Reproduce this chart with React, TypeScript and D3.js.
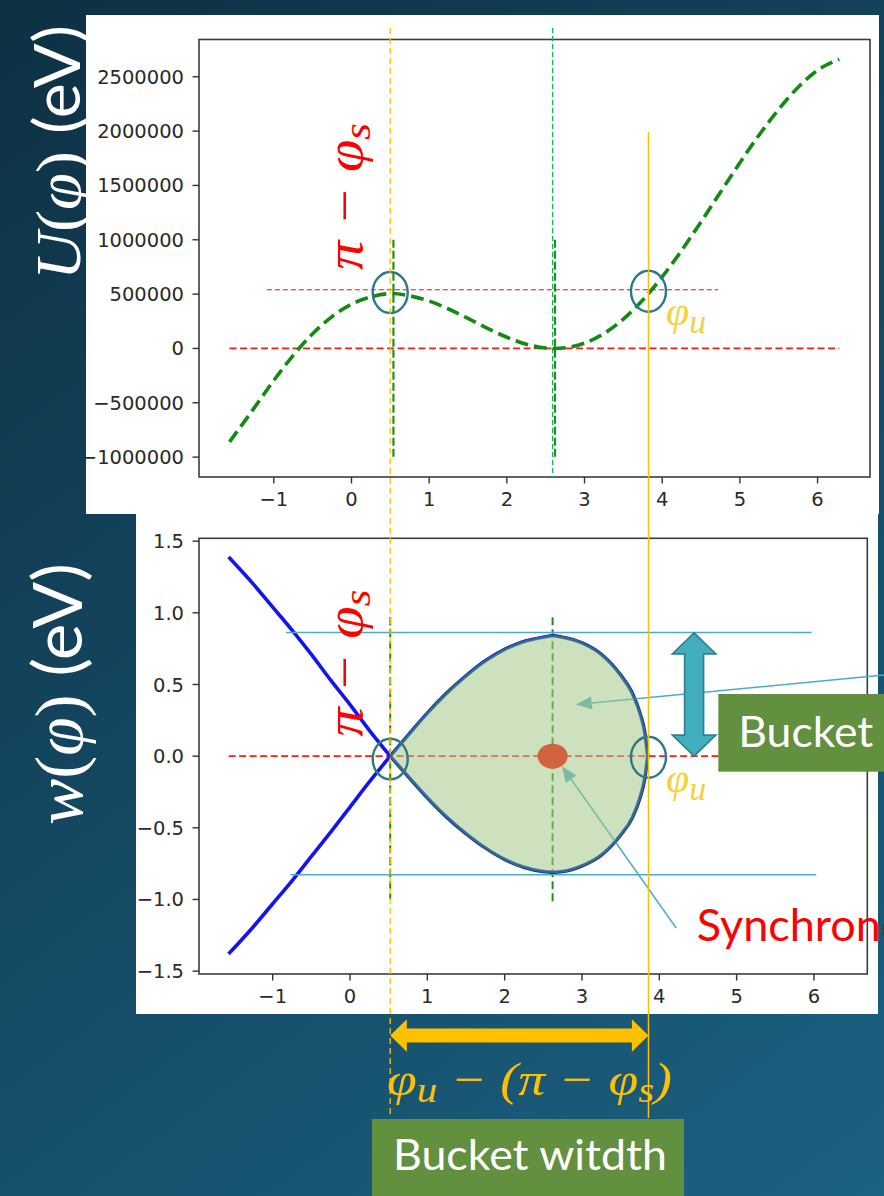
import React from 'react';
import * as d3 from 'd3';

const W = 884;
const H = 1196;

// Potential energy U(φ) in eV
const uPhi = [-1.57, -1.25, -1.0, -0.75, -0.5, -0.25, 0, 0.25, 0.52, 0.75, 1.0, 1.25, 1.5, 1.75, 2.0, 2.25, 2.5, 2.62, 2.75, 3.0, 3.25, 3.5, 3.75, 4.0, 4.25, 4.5, 4.75, 5.0, 5.25, 5.5, 5.75, 6.0, 6.28];
const uValues = [-860000, -545000, -294000, -63000, 135000, 293000, 407000, 475000, 505000, 484000, 436000, 363000, 276000, 185000, 103000, 39000, 4000, 0, 6000, 49000, 137000, 270000, 446000, 659000, 902000, 1165000, 1438000, 1709000, 1967000, 2201000, 2404000, 2560000, 2660000];

// Separatrix w(φ): open branches left of π − φs
const sepLeftPhi = [-1.57, -1.25, -1.0, -0.75, -0.5, -0.25, 0, 0.25, 0.52];
const sepLeftUpper = [1.39, 1.2, 1.04, 0.88, 0.71, 0.53, 0.36, 0.18, 0];
const sepLeftLower = [-1.38, -1.19, -1.03, -0.87, -0.7, -0.53, -0.355, -0.18, 0];

// Separatrix w(φ): closed bucket between π − φs and φu
const bucketPhi = [0.52, 0.75, 1.0, 1.25, 1.5, 1.75, 2.0, 2.25, 2.5, 2.62, 2.75, 3.0, 3.25, 3.5, 3.65, 3.75, 3.81, 3.85];
const bucketUpper = [0, 0.145, 0.3, 0.44, 0.56, 0.665, 0.745, 0.8, 0.83, 0.84, 0.83, 0.79, 0.71, 0.565, 0.44, 0.3, 0.17, 0];
const bucketLower = [0, -0.14, -0.29, -0.425, -0.54, -0.64, -0.72, -0.775, -0.805, -0.81, -0.805, -0.765, -0.69, -0.55, -0.43, -0.29, -0.16, 0];

// Axis ticks
const uTicks = [-1000000, -500000, 0, 500000, 1000000, 1500000, 2000000, 2500000];
const uTickLabels = ['−1000000', '−500000', '0', '500000', '1000000', '1500000', '2000000', '2500000'];
const phiTicks = [-1, 0, 1, 2, 3, 4, 5, 6];
const phiTickLabels = ['−1', '0', '1', '2', '3', '4', '5', '6'];
const wTicks = [-1.5, -1.0, -0.5, 0, 0.5, 1.0, 1.5];
const wTickLabels = ['−1.5', '−1.0', '−0.5', '0.0', '0.5', '1.0', '1.5'];

// Characteristic phases
const PHI_CROSS = 0.52; // π − φs
const PHI_CROSS_MARK = 0.54;
const PHI_S = 2.62;
const PHI_U = 3.86;

const MATH = "'Liberation Serif', 'DejaVu Serif', serif";
const SANS = "Lato, 'Open Sans', sans-serif";
const TICK = "'DejaVu Sans', sans-serif";

const xT = d3.scaleLinear().domain([-1.963, 6.675]).range([199, 870]);
const yT = d3.scaleLinear().domain([-1183000, 2843000]).range([477, 39.5]);
const xB = d3.scaleLinear().domain([-1.953, 6.69]).range([199, 867.3]);
const yB = d3.scaleLinear().domain([-1.52, 1.52]).range([974, 538.3]);

type P = [number, number];
const zip = (a: number[], b: number[]): P[] => a.map((v, i) => [v, b[i]] as P);

const lineT = d3.line<P>().x(d => xT(d[0])).y(d => yT(d[1])).curve(d3.curveMonotoneX);
const lineB = d3.line<P>().x(d => xB(d[0])).y(d => yB(d[1])).curve(d3.curveMonotoneX);
const bucketArea = d3
  .area<number>()
  .x((_, i) => xB(bucketPhi[i]))
  .y0((_, i) => yB(bucketLower[i]))
  .y1((_, i) => yB(bucketUpper[i]))
  .curve(d3.curveMonotoneX);

function Frame({ x, y, xt, xl, yt, yl, labelY, clip }: any) {
  const [x0, x1] = x.range();
  const [y0, y1] = y.range();
  return (
    <g>
      <rect x={x0} y={y1} width={x1 - x0} height={y0 - y1} fill="none" stroke="#3c3c3c" strokeWidth={1.6} />
      {xt.map((t: number, i: number) => (
        <g key={'x' + i}>
          <line x1={x(t)} x2={x(t)} y1={y0} y2={y0 + 6.5} stroke="#333" strokeWidth={1.4} />
          <text x={x(t)} y={labelY} textAnchor="middle" fontFamily={TICK} fontSize={19.5} fill="#2a2a2a">{xl[i]}</text>
        </g>
      ))}
      <g clipPath={clip}>
        {yt.map((t: number, i: number) => (
          <g key={'y' + i}>
            <line x1={x0 - 6.5} x2={x0} y1={y(t)} y2={y(t)} stroke="#333" strokeWidth={1.4} />
            <text x={x0 - 15} y={y(t)} dy="0.36em" textAnchor="end" fontFamily={TICK} fontSize={19.5} fill="#2a2a2a">{yl[i]}</text>
          </g>
        ))}
      </g>
    </g>
  );
}

function pointer(x0: number, y0: number, x1: number, y1: number, color: string) {
  const a = Math.atan2(y1 - y0, x1 - x0);
  const L = 16;
  const hw = 6.5;
  const bx = x1 - L * Math.cos(a);
  const by = y1 - L * Math.sin(a);
  const nx = -Math.sin(a);
  const ny = Math.cos(a);
  return (
    <g>
      <line x1={x0} y1={y0} x2={bx} y2={by} stroke={color} strokeWidth={1.6} />
      <path d={`M${x1},${y1}L${bx + nx * hw},${by + ny * hw}L${bx - nx * hw},${by - ny * hw}Z`} fill={color} />
    </g>
  );
}

function vDoubleArrow(cx: number, yTop: number, yBot: number) {
  const hh = 21;
  const hw = 21.8;
  const sw = 9.5;
  const d = `M${cx},${yTop}L${cx + hw},${yTop + hh}L${cx + sw},${yTop + hh}L${cx + sw},${yBot - hh}L${cx + hw},${yBot - hh}L${cx},${yBot}L${cx - hw},${yBot - hh}L${cx - sw},${yBot - hh}L${cx - sw},${yTop + hh}L${cx - hw},${yTop + hh}Z`;
  return <path d={d} fill="#42adbd" stroke="#2f7f8e" strokeWidth={1.6} strokeLinejoin="miter" />;
}

function hDoubleArrow(xL: number, xR: number, cy: number) {
  const hl = 16.6;
  const hh = 16.2;
  const sh = 7;
  const d = `M${xL},${cy}L${xL + hl},${cy - hh}L${xL + hl},${cy - sh}L${xR - hl},${cy - sh}L${xR - hl},${cy - hh}L${xR},${cy}L${xR - hl},${cy + hh}L${xR - hl},${cy + sh}L${xL + hl},${cy + sh}L${xL + hl},${cy + hh}Z`;
  return <path d={d} fill="#ffc000" />;
}

export default function App() {
  const xCross = xB(PHI_CROSS);
  const xU = xB(PHI_U);
  return (
    <svg width={W} height={H} viewBox={`0 0 ${W} ${H}`} style={{ position: 'absolute', left: 0, top: 0, display: 'block' }}>
      <defs>
        <linearGradient id="bg" x1="0" y1="0" x2={W} y2={H} gradientUnits="userSpaceOnUse">
          <stop offset="0" stopColor="#0e3043" />
          <stop offset="1" stopColor="#1b6182" />
        </linearGradient>
        <clipPath id="clipTop"><rect x={86} y={15} width={793} height={499} /></clipPath>
        <clipPath id="clipBot"><rect x={136} y={514} width={742} height={500} /></clipPath>
      </defs>
      <rect x={0} y={0} width={W} height={H} fill="url(#bg)" />

      {/* panels */}
      <rect x={86} y={15} width={793} height={499} fill="#fff" />
      <rect x={136} y={514} width={742} height={500} fill="#fff" />

      {/* ---------- U(φ) plot ---------- */}
      <Frame x={xT} y={yT} xt={phiTicks} xl={phiTickLabels} yt={uTicks} yl={uTickLabels} labelY={506} clip="url(#clipTop)" />
      <line x1={xT(-1.57)} x2={xT(6.28)} y1={yT(0)} y2={yT(0)} stroke="#ff1a1a" strokeWidth={1.8} strokeDasharray="7 3.5" />
      <line x1={xT(PHI_CROSS_MARK)} x2={xT(PHI_CROSS_MARK)} y1={yT(1000000)} y2={yT(-1000000)} stroke="#1f8f1f" strokeWidth={2.2} strokeDasharray="8 3" />
      <line x1={xT(PHI_S)} x2={xT(PHI_S)} y1={yT(1000000)} y2={yT(-1000000)} stroke="#1f8f1f" strokeWidth={2.2} strokeDasharray="8 3" />
      <path d={lineT(zip(uPhi, uValues)) || ''} fill="none" stroke="#138a13" strokeWidth={3.6} strokeDasharray="13 6" />

      {/* annotations on U(φ) */}
      <line x1={xT(-1.09)} x2={xT(4.72)} y1={yT(540000)} y2={yT(540000)} stroke="#ff0000" strokeWidth={1} strokeDasharray="5 3" />
      <line x1={xT(2.59)} x2={xT(2.59)} y1={28} y2={478} stroke="#00b050" strokeWidth={1.2} strokeDasharray="5 3" />
      <ellipse cx={xCross} cy={yT(515000)} rx={17.5} ry={20.5} fill="none" stroke="#2d7888" strokeWidth={2.4} />
      <ellipse cx={xU} cy={yT(527000)} rx={17.5} ry={20.5} fill="none" stroke="#2d7888" strokeWidth={2.4} />
      <text transform="translate(362,270) rotate(-90)" fill="#ff0000" fontFamily={MATH} fontStyle="italic" fontSize={52} textLength={147} lengthAdjust="spacingAndGlyphs">
        π − φ<tspan fontSize={38} dy={8}>s</tspan>
      </text>
      <text x={666} y={325} fill="#f3d23b" fontFamily={MATH} fontStyle="italic" fontSize={42}>
        φ<tspan fontSize={34} dy={8}>u</tspan>
      </text>

      {/* ---------- w(φ) plot ---------- */}
      <Frame x={xB} y={yB} xt={phiTicks} xl={phiTickLabels} yt={wTicks} yl={wTickLabels} labelY={1003} clip="url(#clipBot)" />
      <line x1={xB(-1.57)} x2={xB(6.28)} y1={yB(0)} y2={yB(0)} stroke="#ff1a1a" strokeWidth={1.8} strokeDasharray="7 3.5" />
      <line x1={xB(PHI_CROSS)} x2={xB(PHI_CROSS)} y1={yB(0.97)} y2={yB(-1.0)} stroke="#1f8f1f" strokeWidth={2} strokeDasharray="8 4" />
      <line x1={xB(PHI_S)} x2={xB(PHI_S)} y1={yB(0.97)} y2={yB(-1.02)} stroke="#1f8f1f" strokeWidth={2} strokeDasharray="8 4" />
      <g fill="none" stroke="#1414f0" strokeWidth={3.6}>
        <path d={lineB(zip(sepLeftPhi, sepLeftUpper)) || ''} />
        <path d={lineB(zip(sepLeftPhi, sepLeftLower)) || ''} />
        <path d={lineB(zip(bucketPhi, bucketUpper)) || ''} />
        <path d={lineB(zip(bucketPhi, bucketLower)) || ''} />
      </g>

      {/* annotations on w(φ) */}
      <line x1={xB(-0.83)} x2={xB(5.97)} y1={yB(0.862)} y2={yB(0.862)} stroke="#4bacc6" strokeWidth={1.5} />
      <line x1={xB(-0.77)} x2={xB(6.03)} y1={yB(-0.828)} y2={yB(-0.828)} stroke="#4bacc6" strokeWidth={1.5} />
      {pointer(W, 675, xB(2.92), yB(0.36), '#4bacc6')}
      {pointer(xB(4.22), yB(-1.2), xB(2.74), yB(-0.07), '#4bacc6')}
      <path d={bucketArea(bucketPhi) || ''} fill="rgb(164,200,137)" fillOpacity={0.55} stroke="#2e6f78" strokeWidth={2.2} />
      <ellipse cx={xCross} cy={yB(-0.02)} rx={17.5} ry={20.3} fill="none" stroke="#2f7b7c" strokeWidth={2.4} />
      <ellipse cx={xU} cy={yB(-0.008)} rx={17.5} ry={20.5} fill="none" stroke="#2d7888" strokeWidth={2.4} />
      <ellipse cx={xB(PHI_S)} cy={yB(0)} rx={15} ry={12.5} fill="#d0643f" />
      {vDoubleArrow(xB(4.45), yB(0.86), yB(0.0))}
      <text transform="translate(362,736.7) rotate(-90)" fill="#ff0000" fontFamily={MATH} fontStyle="italic" fontSize={52} textLength={147} lengthAdjust="spacingAndGlyphs">
        π − φ<tspan fontSize={38} dy={8}>s</tspan>
      </text>
      <text x={666} y={792} fill="#f3d23b" fontFamily={MATH} fontStyle="italic" fontSize={42}>
        φ<tspan fontSize={34} dy={8}>u</tspan>
      </text>
      <rect x={718.3} y={694} width={W - 718.3} height={77.7} fill="#62903e" />
      <text x={738.3} y={746.7} fill="#fff" fontFamily={SANS} fontSize={42} textLength={135} lengthAdjust="spacingAndGlyphs">Bucket</text>
      <text x={696.7} y={941} fill="#ff0000" fontFamily={SANS} fontSize={45}>Synchronous particle</text>

      {/* reference phases spanning both plots */}
      <line x1={xCross} x2={xCross} y1={28} y2={1117} stroke="#ffc000" strokeWidth={1.3} strokeDasharray="6 4" />
      <line x1={xU} x2={xU} y1={132} y2={1118} stroke="#ffc000" strokeWidth={1.5} />

      {/* bucket width */}
      {hDoubleArrow(xCross, xU, 1035.5)}
      <text x={387} y={1095} fill="#ffc000" fontFamily={MATH} fontStyle="italic" fontSize={46} textLength={285} lengthAdjust="spacingAndGlyphs">
        φ<tspan fontSize={35} dy={7}>u</tspan><tspan dy={-7}> − (π − φ</tspan><tspan fontSize={35} dy={7}>s</tspan><tspan dy={-7}>)</tspan>
      </text>
      <rect x={372} y={1119} width={312} height={H - 1119} fill="#62903e" />
      <text x={393} y={1170} fill="#fff" fontFamily={SANS} fontSize={43} textLength={274} lengthAdjust="spacingAndGlyphs">Bucket witdth</text>

      {/* axis titles */}
      <text transform="translate(80,280) rotate(-90)" fill="#fff" fontSize={64} textLength={255} lengthAdjust="spacingAndGlyphs">
        <tspan fontFamily={MATH} fontStyle="italic">U</tspan>
        <tspan fontFamily={MATH}>(</tspan>
        <tspan fontFamily={MATH} fontStyle="italic">φ</tspan>
        <tspan fontFamily={MATH}>)</tspan>
        <tspan fontFamily={SANS}> (eV)</tspan>
      </text>
      <text transform="translate(82,825) rotate(-90)" fill="#fff" fontSize={68} textLength={262} lengthAdjust="spacingAndGlyphs">
        <tspan fontFamily={MATH} fontStyle="italic">w</tspan>
        <tspan fontFamily={MATH}>(</tspan>
        <tspan fontFamily={MATH} fontStyle="italic">φ</tspan>
        <tspan fontFamily={MATH}>)</tspan>
        <tspan fontFamily={SANS}> (eV)</tspan>
      </text>
    </svg>
  );
}
